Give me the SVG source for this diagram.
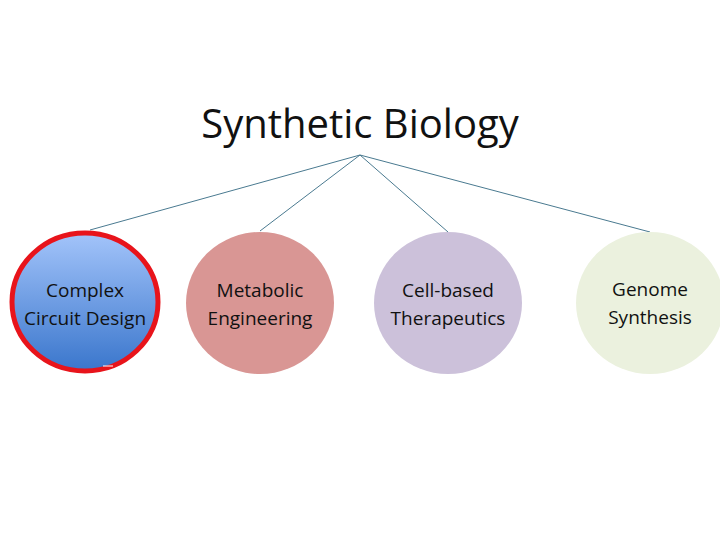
<svg xmlns="http://www.w3.org/2000/svg" width="720" height="540" viewBox="0 0 720 540">
<style>
.t{font-family:"Open Sans","Liberation Sans",sans-serif;font-size:19px;fill:#111;text-anchor:middle}
.c{stroke:#4a7a90;stroke-width:1;fill:none}
</style>
<defs><linearGradient id="g" x1="0" y1="0" x2="0" y2="1"><stop offset="0" stop-color="#a3c4fa"/><stop offset="1" stop-color="#3a76cc"/></linearGradient></defs>
<rect width="720" height="540" fill="#fff"/>
<g id="title"><text x="360" y="138" style="font-family:'Open Sans','Liberation Sans',sans-serif;font-size:40px;fill:#111;text-anchor:middle">Synthetic Biology</text></g>
<g id="connectors">
<line class="c" x1="360" y1="155" x2="90" y2="230"/>
<line class="c" x1="360" y1="155" x2="260" y2="231"/>
<line class="c" x1="360" y1="155" x2="448" y2="232"/>
<line class="c" x1="360" y1="155" x2="650" y2="232"/>
</g>
<g id="n1"><ellipse cx="85" cy="302" rx="73" ry="69" fill="url(#g)" stroke="#e8141b" stroke-width="5"/><line x1="103" y1="366" x2="113" y2="366" stroke="#fff"/><text class="t" x="85" y="297">Complex</text><text class="t" x="85" y="325">Circuit Design</text></g>
<g id="n2"><ellipse cx="260" cy="303" rx="74" ry="71" fill="#d99694"/><text class="t" x="260" y="297">Metabolic</text><text class="t" x="260" y="325">Engineering</text></g>
<g id="n3"><ellipse cx="448" cy="303" rx="74" ry="71" fill="#ccc1da"/><text class="t" x="448" y="297">Cell-based</text><text class="t" x="448" y="325">Therapeutics</text></g>
<g id="n4"><ellipse cx="650" cy="303" rx="74" ry="71" fill="#ebf1de"/><text class="t" x="650" y="296">Genome</text><text class="t" x="650" y="324">Synthesis</text></g>
</svg>
